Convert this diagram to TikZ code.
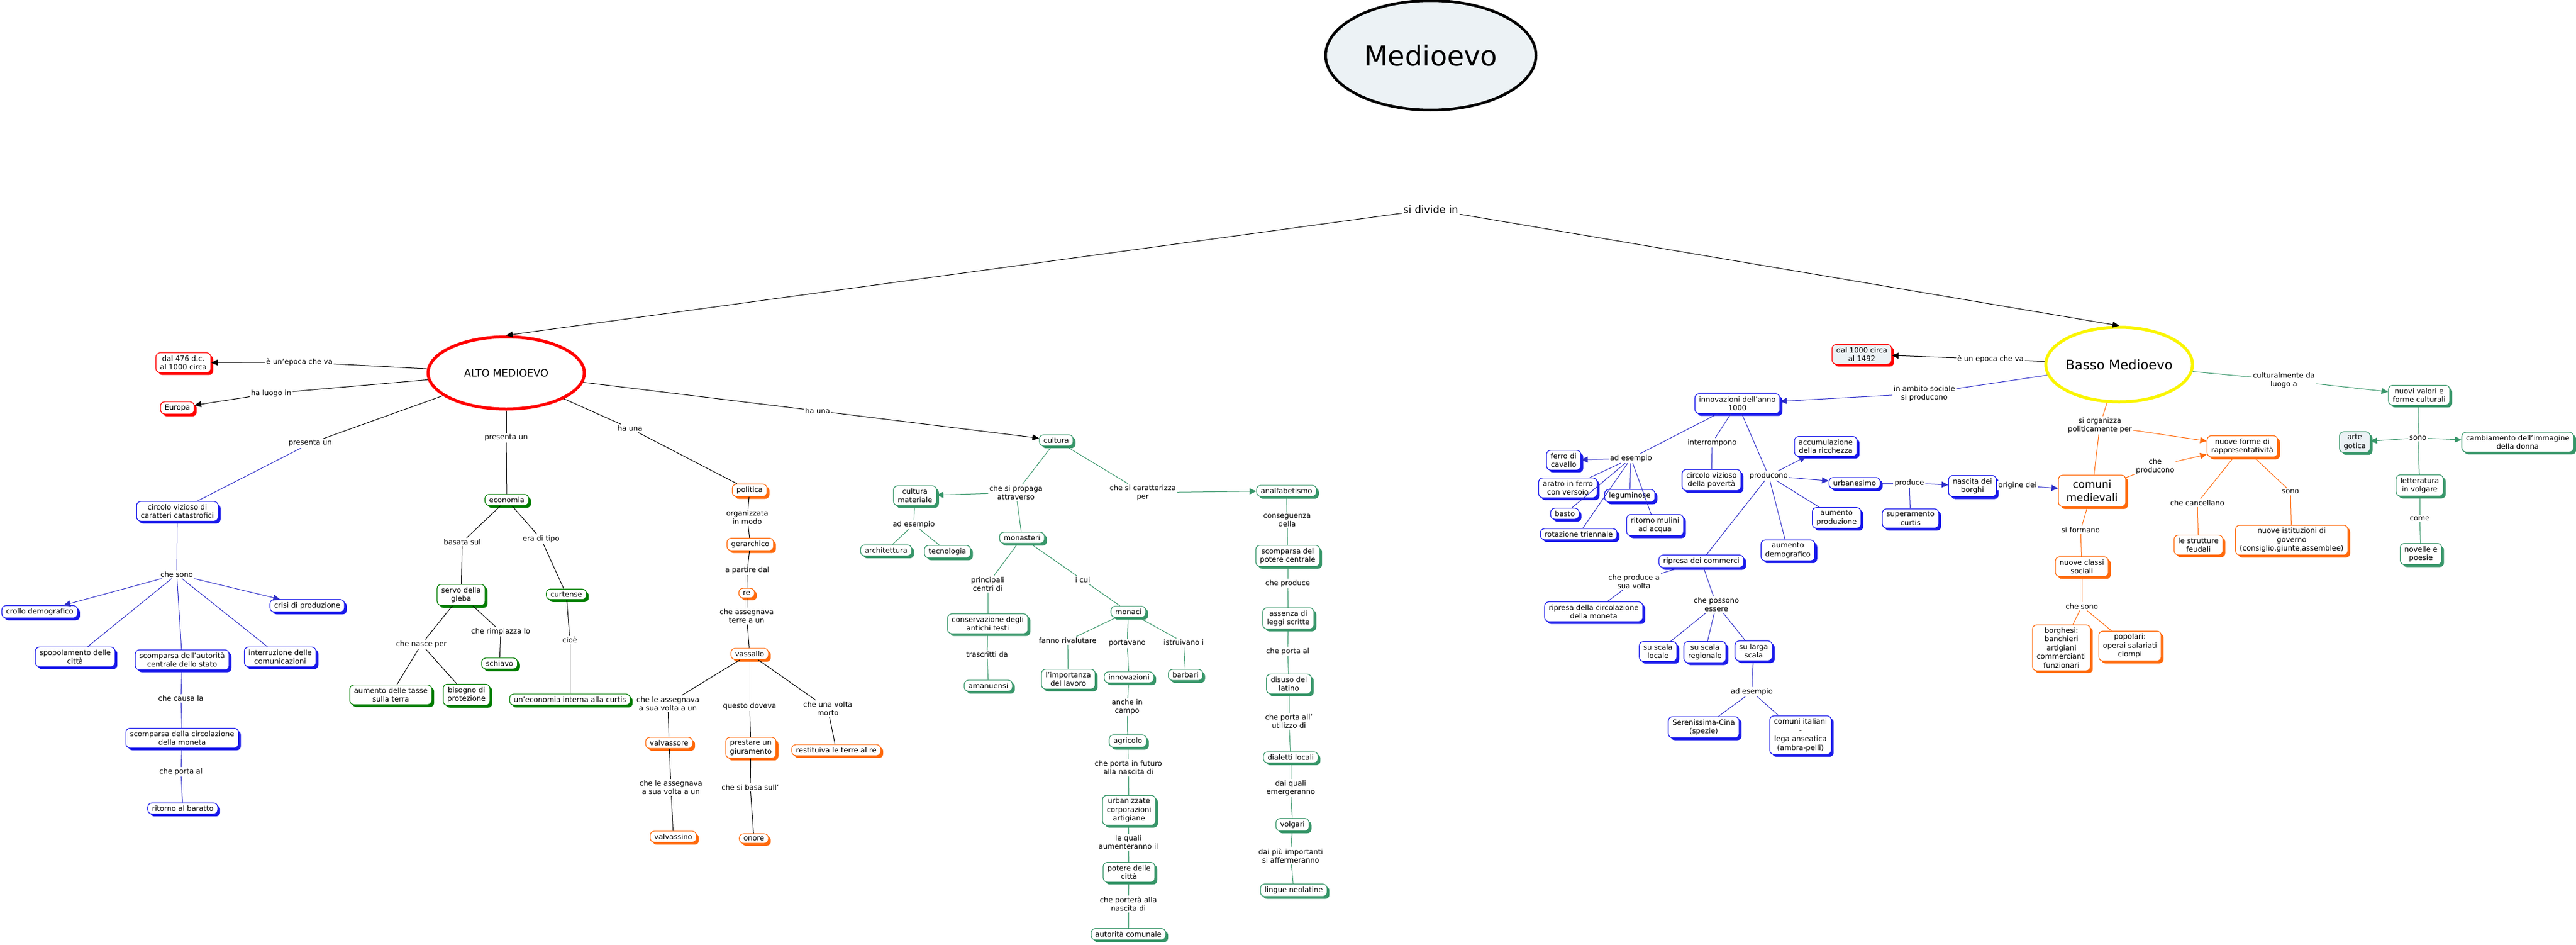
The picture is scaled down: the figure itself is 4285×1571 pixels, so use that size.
\documentclass[tikz,border=0pt]{standalone}
\usepackage{fontspec}
\setmainfont{DejaVu Sans}
\usetikzlibrary{shapes.geometric,shadows,arrows.meta}
\definecolor{cmblue}{RGB}{25,25,235}
\definecolor{cmlinkblue}{RGB}{45,45,200}
\definecolor{cmgreen}{RGB}{0,125,0}
\definecolor{cmsea}{RGB}{55,150,105}
\definecolor{cmorange}{RGB}{255,105,10}
\definecolor{cmred}{RGB}{255,0,0}
\definecolor{cmyellow}{RGB}{250,245,0}
\definecolor{cmfill}{RGB}{236,242,245}
\tikzset{
cbox/.style={
  rectangle, rounded corners=7pt, draw, fill=white, line width=1.2pt,
  align=center, inner xsep=7pt, inner ysep=4.5pt,
  font=\fontsize{12}{14.5}\selectfont
},
redbox/.style={cbox,draw=cmred,drop shadow={shadow xshift=4pt,shadow yshift=-4pt,fill=cmred,opacity=1}},
bluebox/.style={cbox,draw=cmblue,drop shadow={shadow xshift=4pt,shadow yshift=-4pt,fill=cmblue,opacity=1}},
greenbox/.style={cbox,draw=cmgreen,drop shadow={shadow xshift=4pt,shadow yshift=-4pt,fill=cmgreen,opacity=1}},
seabox/.style={cbox,draw=cmsea,drop shadow={shadow xshift=4pt,shadow yshift=-4pt,fill=cmsea,opacity=1}},
orangebox/.style={cbox,draw=cmorange,drop shadow={shadow xshift=4pt,shadow yshift=-4pt,fill=cmorange,opacity=1}},
lbl/.style={fill=white, inner sep=2pt, align=center, font=\fontsize{12}{14.5}\selectfont},
epoch/.style={ellipse, inner sep=0pt, fill=white},
conn/.style={line width=1pt},
arr/.style={-{Triangle[length=11pt,width=10pt]}}
}

\begin{document}
\begin{tikzpicture}[x=1pt,y=-1pt]
\useasboundingbox[fill=white] (0,0) rectangle (4285,1571);

% top
\node[epoch, draw=black, line width=4.5pt, fill=cmfill, minimum width=350, minimum height=182,
  font=\fontsize{46}{50}\selectfont] (med) at (2380,92) {\makebox[0pt]{Medioevo}};
\node[lbl, font=\fontsize{17}{20}\selectfont] (divide) at (2380,348) {si divide in};
\node[epoch, draw=cmred, line width=5pt, minimum width=260, minimum height=120,
  font=\fontsize{17}{20}\selectfont] (alto) at (842,620) {\makebox[0pt]{ALTO MEDIOEVO}};
\node[epoch, draw=cmyellow, line width=5pt, minimum width=244, minimum height=124,
  font=\fontsize{22}{26}\selectfont] (basso) at (3525,606) {\makebox[0pt]{Basso Medioevo}};

% alto medioevo
\node[redbox] (dal476) at (305,603) {dal 476 d.c.\\al 1000 circa};
\node[redbox] (europa) at (295,678) {Europa};
\node[lbl] (epoca) at (498,602) {è un'epoca che va};
\node[lbl] (luogo) at (451,654) {ha luogo in};
\node[lbl] (pres1) at (516,737) {presenta un};
\node[lbl] (pres2) at (842,728) {presenta un};
\node[lbl] (haun1) at (1048,712) {ha una};
\node[lbl] (haun2) at (1360,683) {ha una};

\node[bluebox] (circolo) at (295,850) {circolo vizioso di\\caratteri catastrofici};
\node[lbl] (chesono1) at (294,955) {che sono};
\node[bluebox] (crollo) at (66,1017) {crollo demografico};
\node[bluebox] (crisi) at (511,1007) {crisi di produzione};
\node[bluebox] (spopol) at (125,1092) {spopolamento delle\\città};
\node[bluebox] (scompaut) at (303,1097) {scomparsa dell'autorità\\centrale dello stato};
\node[bluebox] (interruz) at (466,1092) {interruzione delle\\comunicazioni};
\node[lbl] (causa) at (301,1161) {che causa la};
\node[bluebox] (scompmon) at (303,1227) {scomparsa della circolazione\\della moneta};
\node[lbl] (portaal) at (301,1283) {che porta al};
\node[bluebox] (baratto) at (304,1344) {ritorno al baratto};

\node[greenbox] (economia) at (843,831) {economia};
\node[lbl] (basata) at (769,901) {basata sul};
\node[lbl] (eratipo) at (900,896) {era di tipo};
\node[greenbox] (servo) at (767,989) {servo della\\gleba};
\node[greenbox] (curtense) at (942,988) {curtense};
\node[lbl] (nasce) at (701,1071) {che nasce per};
\node[lbl] (rimpiazza) at (833,1050) {che rimpiazza lo};
\node[greenbox] (schiavo) at (831,1103) {schiavo};
\node[lbl] (cioe) at (948,1064) {cioè};
\node[greenbox] (tasse) at (650,1155) {aumento delle tasse\\sulla terra};
\node[greenbox] (bisogno) at (776,1155) {bisogno di\\protezione};
\node[greenbox] (interna) at (948,1163) {un'economia interna alla curtis};

\node[orangebox] (politica) at (1247,815) {politica};
\node[lbl] (organ) at (1243,860) {organizzata\\in modo};
\node[orangebox] (gerarchico) at (1248,905) {gerarchico};
\node[lbl] (partire) at (1243,948) {a partire dal};
\node[orangebox] (re) at (1242,986) {re};
\node[lbl] (asseg) at (1242,1024) {che assegnava\\terre a un};
\node[orangebox] (vassallo) at (1247,1087) {vassallo};
\node[lbl] (asseg1) at (1111,1170) {che le assegnava\\a sua volta a un};
\node[lbl] (doveva) at (1247,1174) {questo doveva};
\node[lbl] (morto) at (1377,1178) {che una volta\\morto};
\node[orangebox] (valvassore) at (1113,1235) {valvassore};
\node[orangebox] (giuramento) at (1249,1243) {prestare un\\giuramento};
\node[orangebox] (restituiva) at (1391,1247) {restituiva le terre al re};
\node[lbl] (asseg2) at (1116,1309) {che le assegnava\\a sua volta a un};
\node[lbl] (basa) at (1248,1309) {che si basa sull'};
\node[orangebox] (valvassino) at (1120,1391) {valvassino};
\node[orangebox] (onore) at (1254,1394) {onore};

% cultura
\node[seabox] (cultura) at (1757,732) {cultura};
\node[lbl] (propaga) at (1690,819) {che si propaga\\attraverso};
\node[lbl] (caratt) at (1901,819) {che si caratterizza\\per};
\node[seabox] (culmat) at (1522,824) {cultura\\materiale};
\node[lbl] (adesem1) at (1520,872) {ad esempio};
\node[seabox] (archit) at (1474,915) {architettura};
\node[seabox] (tecno) at (1576,917) {tecnologia};
\node[seabox] (monasteri) at (1700,894) {monasteri};
\node[lbl] (centri) at (1643,971) {principali\\centri di};
\node[lbl] (icui) at (1801,964) {i cui};
\node[seabox] (conserv) at (1643,1037) {conservazione degli\\antichi testi};
\node[seabox] (monaci) at (1877,1017) {monaci};
\node[lbl] (trascr) at (1642,1088) {trascritti da};
\node[lbl] (fanno) at (1776,1065) {fanno rivalutare};
\node[lbl] (portavano) at (1875,1070) {portavano};
\node[lbl] (istruivano) at (1969,1068) {istruivano i};
\node[seabox] (amanuensi) at (1644,1140) {amanuensi};
\node[seabox] (importanza) at (1777,1129) {l'importanza\\del lavoro};
\node[seabox] (innov) at (1878,1126) {innovazioni};
\node[seabox] (barbari) at (1972,1122) {barbari};
\node[lbl] (campo) at (1875,1175) {anche in\\campo};
\node[seabox] (agricolo) at (1876,1232) {agricolo};
\node[lbl] (futuro) at (1877,1276) {che porta in futuro\\alla nascita di};
\node[seabox] (urbanizz) at (1878,1347) {urbanizzate\\corporazioni\\artigiane};
\node[lbl] (quali) at (1877,1400) {le quali\\aumenteranno il};
\node[seabox] (potere) at (1878,1450) {potere delle\\città};
\node[lbl] (portera) at (1877,1503) {che porterà alla\\nascita di};
\node[seabox] (autorita) at (1877,1553) {autorità comunale};
\node[seabox] (analf) at (2140,816) {analfabetismo};
\node[lbl] (conseg) at (2141,865) {conseguenza\\della};
\node[seabox] (scomppot) at (2142,924) {scomparsa del\\potere centrale};
\node[lbl] (produce) at (2142,970) {che produce};
\node[seabox] (assenza) at (2143,1028) {assenza di\\leggi scritte};
\node[lbl] (portaal2) at (2142,1083) {che porta al};
\node[seabox] (disuso) at (2144,1137) {disuso del\\latino};
\node[lbl] (utilizzo) at (2144,1199) {che porta all'\\utilizzo di};
\node[seabox] (dialetti) at (2147,1259) {dialetti locali};
\node[lbl] (emerg) at (2147,1310) {dai quali\\emergeranno};
\node[seabox] (volgari) at (2150,1371) {volgari};
\node[lbl] (affer) at (2147,1423) {dai più importanti\\si affermeranno};
\node[seabox] (neolatine) at (2152,1480) {lingue neolatine};

% basso medioevo
\node[redbox, fill=cmfill] (dal1000) at (3097,589) {dal 1000 circa\\al 1492};
\node[lbl] (epoca2) at (3311,597) {è un epoca che va};
\node[lbl] (sociale) at (3201,654) {in ambito sociale\\si producono};
\node[bluebox] (innov1000) at (2890,671) {innovazioni dell'anno\\1000};
\node[lbl] (adesem2) at (2713,762) {ad esempio};
\node[lbl] (interr) at (2848,736) {interrompono};
\node[bluebox] (circpov) at (2847,798) {circolo vizioso\\della povertà};
\node[lbl] (producono) at (2942,791) {producono};
\node[bluebox] (ferro) at (2601,765) {ferro di\\cavallo};
\node[bluebox] (aratro) at (2608,811) {aratro in ferro\\con versoio};
\node[bluebox] (legum) at (2711,824) {leguminose};
\node[bluebox] (basto) at (2603,854) {basto};
\node[bluebox] (mulini) at (2753,873) {ritorno mulini\\ad acqua};
\node[bluebox] (rotaz) at (2626,888) {rotazione triennale};
\node[bluebox] (ripresa) at (2830,933) {ripresa dei commerci};
\node[lbl] (sua) at (2718,967) {che produce a\\sua volta};
\node[bluebox] (aumdemo) at (2974,915) {aumento\\demografico};
\node[bluebox] (accum) at (3037,742) {accumulazione\\della ricchezza};
\node[bluebox] (urban) at (3085,803) {urbanesimo};
\node[bluebox] (aumprod) at (3055,861) {aumento\\produzione};
\node[bluebox] (ripcirc) at (2651,1017) {ripresa della circolazione\\della moneta};
\node[lbl] (possono) at (2855,1005) {che possono\\essere};
\node[bluebox] (locale) at (2758,1083) {su scala\\locale};
\node[bluebox] (regionale) at (2836,1084) {su scala\\regionale};
\node[bluebox] (larga) at (2917,1082) {su larga\\scala};
\node[lbl] (adesem3) at (2914,1150) {ad esempio};
\node[bluebox] (serenissima) at (2834,1209) {Serenissima-Cina\\(spezie)};
\node[bluebox] (comunit) at (2995,1222) {comuni italiani\\-\\lega anseatica\\(ambra-pelli)};
\node[lbl] (produce2) at (3176,803) {produce};
\node[bluebox] (borghi) at (3281,808) {nascita dei\\borghi};
\node[bluebox] (superam) at (3178,862) {superamento\\curtis};
\node[lbl] (origine) at (3356,807) {origine dei};
\node[orangebox, font=\fontsize{17.5}{22}\selectfont, minimum width=112, minimum height=52] (comuni) at (3480,816) {comuni\\medievali};
\node[lbl] (organizza) at (3493,707) {si organizza\\politicamente per};
\node[lbl] (cheprod) at (3585,775) {che\\producono};
\node[lbl] (formano) at (3461,881) {si formano};
\node[orangebox] (nuoveclassi) at (3463,942) {nuove classi\\sociali};
\node[lbl] (chesono2) at (3463,1008) {che sono};
\node[orangebox] (borghesi) at (3429,1077) {borghesi:\\banchieri\\artigiani\\commercianti\\funzionari};
\node[orangebox] (popolari) at (3543,1074) {popolari:\\operai salariati\\ciompi};
\node[orangebox] (nuoveforme) at (3730,742) {nuove forme di\\rappresentatività};
\node[lbl] (cancellano) at (3655,836) {che cancellano};
\node[lbl] (sono1) at (3810,817) {sono};
\node[orangebox] (strutture) at (3657,906) {le strutture\\feudali};
\node[orangebox] (istituzioni) at (3812,898) {nuove istituzioni di\\governo\\(consiglio,giunte,assemblee)};
\node[lbl] (cultur) at (3799,632) {culturalmente da\\luogo a};
\node[seabox] (nuovivalori) at (4024,657) {nuovi valori e\\forme culturali};
\node[lbl] (sono2) at (4022,728) {sono};
\node[seabox, fill=cmfill] (artegotica) at (3917,735) {arte\\gotica};
\node[seabox] (cambiamento) at (4188,735) {cambiamento dell'immagine\\della donna};
\node[seabox] (letteratura) at (4025,807) {letteratura\\in volgare};
\node[lbl] (come) at (4025,862) {come};
\node[seabox] (novelle) at (4027,921) {novelle e\\poesie};

% the links
\draw[conn] (med) -- (divide);
\foreach \a/\b in {divide/alto.north, divide/basso.north, epoca/dal476, luogo/europa, haun2/cultura, epoca2/dal1000}
  \draw[conn,arr] (\a) -- (\b);
\foreach \a/\b in {alto/epoca, alto/luogo, alto/pres1, alto/pres2, pres2/economia, alto/haun1, haun1/politica, alto/haun2,
  economia/basata, basata/servo, economia/eratipo, eratipo/curtense, servo/nasce, nasce/tasse, nasce/bisogno,
  servo/rimpiazza, rimpiazza/schiavo, curtense/cioe, cioe/interna,
  politica/organ, organ/gerarchico, gerarchico/partire, partire/re, re/asseg, asseg/vassallo,
  vassallo/asseg1, asseg1/valvassore, valvassore/asseg2, asseg2/valvassino, vassallo/doveva, doveva/giuramento,
  giuramento/basa, basa/onore, vassallo/morto, morto/restituiva, basso/epoca2}
  \draw[conn] (\a) -- (\b);
\foreach \a/\b in {pres1/circolo, circolo/chesono1, chesono1/spopol, chesono1/scompaut, chesono1/interruz,
  scompaut/causa, causa/scompmon, scompmon/portaal, portaal/baratto,
  basso/sociale, innov1000/adesem2, adesem2/aratro, adesem2/basto, adesem2/rotaz, adesem2/legum, adesem2/mulini,
  innov1000/interr, interr/circpov, innov1000/producono, producono/aumprod, producono/aumdemo, producono/ripresa,
  ripresa/sua, sua/ripcirc, ripresa/possono, possono/locale, possono/regionale, possono/larga, larga/adesem3,
  adesem3/serenissima, adesem3/comunit, urban/produce2, produce2/superam, borghi/origine}
  \draw[conn,cmlinkblue] (\a) -- (\b);
\foreach \a/\b in {chesono1/crollo, chesono1/crisi, sociale/innov1000, adesem2/ferro, producono/accum,
  producono/urban, produce2/borghi, origine/comuni}
  \draw[conn,arr,cmlinkblue] (\a) -- (\b);
\foreach \a/\b in {cultura/propaga, propaga/monasteri, culmat/adesem1, adesem1/archit, adesem1/tecno, cultura/caratt,
  monasteri/centri, centri/conserv, conserv/trascr, trascr/amanuensi, monasteri/icui, icui/monaci,
  monaci/fanno, fanno/importanza, monaci/portavano, portavano/innov, monaci/istruivano, istruivano/barbari,
  innov/campo, campo/agricolo, agricolo/futuro, futuro/urbanizz, urbanizz/quali, quali/potere, potere/portera,
  portera/autorita, analf/conseg, conseg/scomppot, scomppot/produce, produce/assenza, assenza/portaal2,
  portaal2/disuso, disuso/utilizzo, utilizzo/dialetti, dialetti/emerg, emerg/volgari, volgari/affer,
  affer/neolatine, basso/cultur, nuovivalori/sono2, sono2/letteratura, letteratura/come, come/novelle}
  \draw[conn,cmsea] (\a) -- (\b);
\foreach \a/\b in {propaga/culmat, caratt/analf, cultur/nuovivalori, sono2/artegotica, sono2/cambiamento}
  \draw[conn,arr,cmsea] (\a) -- (\b);
\foreach \a/\b in {basso/organizza, organizza/comuni, comuni/cheprod, comuni/formano, formano/nuoveclassi,
  nuoveclassi/chesono2, chesono2/borghesi, chesono2/popolari, nuoveforme/cancellano, cancellano/strutture,
  nuoveforme/sono1, sono1/istituzioni}
  \draw[conn,cmorange] (\a) -- (\b);
\foreach \a/\b in {organizza/nuoveforme, cheprod/nuoveforme}
  \draw[conn,arr,cmorange] (\a) -- (\b);
\end{tikzpicture}
\end{document}
